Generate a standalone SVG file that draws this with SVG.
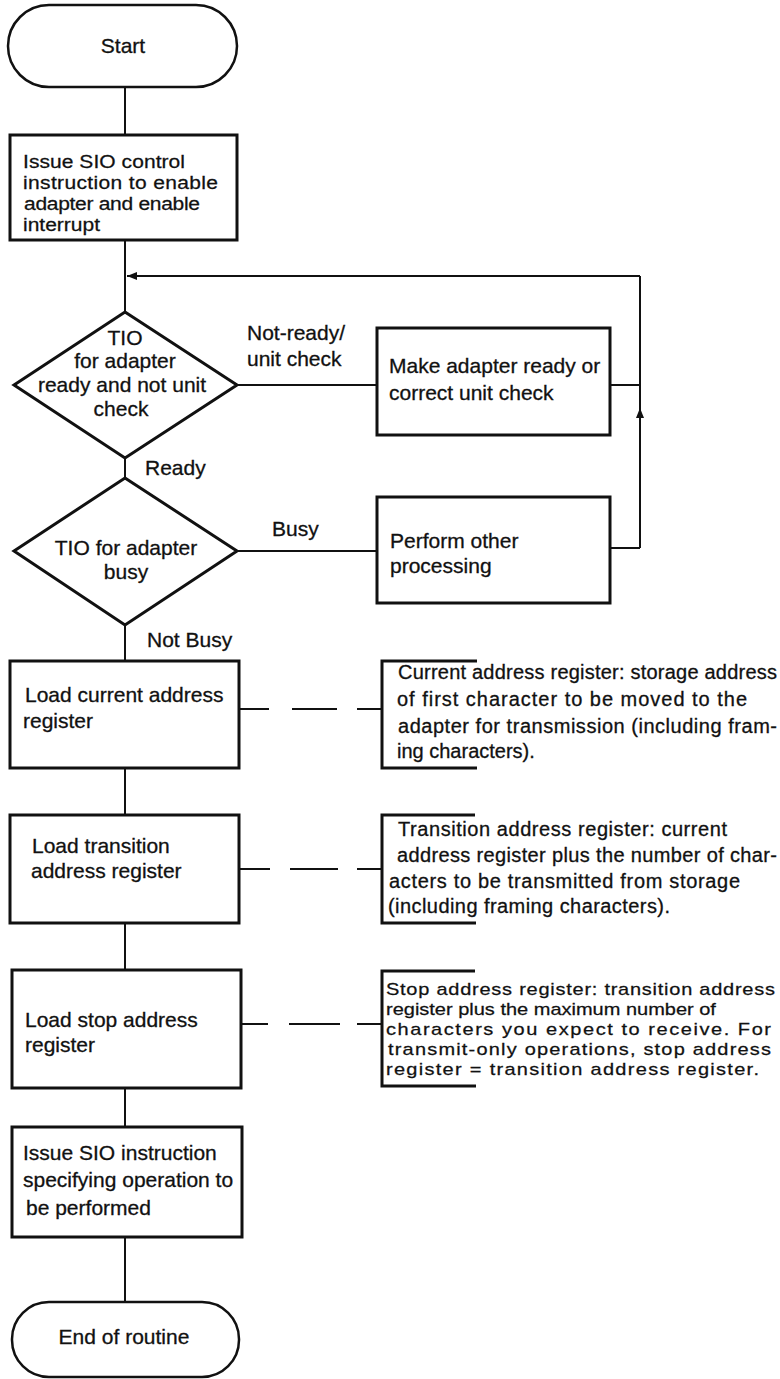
<svg xmlns="http://www.w3.org/2000/svg" width="780" height="1379" viewBox="0 0 780 1379">
  <style>
    text { font-family: "Liberation Sans", Arial, sans-serif; font-size: 21px; fill: #111; stroke: #111; stroke-width: 0.3; }
    .note { font-size: 20px; }
    .box { fill: #fff; stroke: #111; stroke-width: 3; }
    .term { fill: #fff; stroke: #111; stroke-width: 2.5; }
    .dec { fill: #fff; stroke: #111; stroke-width: 3; stroke-linejoin: miter; }
    .wire { fill: none; stroke: #111; stroke-width: 2; }
    .bracket { fill: none; stroke: #111; stroke-width: 3; }
    .mid { text-anchor: middle; }
  </style>
  <defs>
    <marker id="arrow" viewBox="0 0 10 8" refX="10" refY="4" markerWidth="10" markerHeight="8" markerUnits="userSpaceOnUse" orient="auto">
      <path d="M0,0 L10,4 L0,8 z" fill="#111"/>
    </marker>
  </defs>

  <!-- connectors -->
  <g id="connectors">
    <line class="wire" x1="125" y1="87" x2="125" y2="135"/>
    <line class="wire" x1="125" y1="240" x2="125" y2="312"/>
    <line class="wire" x1="640" y1="276" x2="127" y2="276" marker-end="url(#arrow)"/>
    <line class="wire" x1="237" y1="385" x2="377" y2="385"/>
    <line class="wire" x1="610" y1="385" x2="640" y2="385"/>
    <line class="wire" x1="640" y1="276" x2="640" y2="548"/>
    <line class="wire" x1="640" y1="470" x2="640" y2="408" marker-end="url(#arrow)"/>
    <line class="wire" x1="125" y1="458" x2="125" y2="478"/>
    <line class="wire" x1="237" y1="551" x2="377" y2="551"/>
    <line class="wire" x1="610" y1="548" x2="640" y2="548"/>
    <line class="wire" x1="125" y1="625" x2="125" y2="661"/>
    <line class="wire" x1="125" y1="768" x2="125" y2="815"/>
    <line class="wire" x1="125" y1="923" x2="125" y2="970"/>
    <line class="wire" x1="125" y1="1088" x2="125" y2="1127"/>
    <line class="wire" x1="125" y1="1237" x2="125" y2="1302"/>
    <!-- dashed annotation leaders -->
    <path class="wire" d="M239,709 H269 M292,709 H337 M357,709 H382"/>
    <path class="wire" d="M239,869 H270 M290,869 H338 M357,869 H382"/>
    <path class="wire" d="M241,1024 H268 M289,1024 H340 M357,1024 H382"/>
    <!-- branch labels -->
    <text x="247" y="340">Not-ready/</text>
    <text x="247" y="366">unit check</text>
    <text x="145" y="475">Ready</text>
    <text x="272" y="536">Busy</text>
    <text x="147" y="647">Not Busy</text>
  </g>

  <g id="start">
    <rect class="term" x="8" y="5" width="229" height="82" rx="41" ry="41"/>
    <text class="mid" x="123" y="53">Start</text>
  </g>

  <g id="enable">
    <rect class="box" x="10" y="135" width="227" height="105"/>
    <!-- tightly set lines: glyphs squeezed vertically -->
    <text transform="matrix(1 0 0 0.88 23 168)" textLength="162" lengthAdjust="spacing">Issue SIO control</text>
    <text transform="matrix(1 0 0 0.88 23 189)" textLength="195" lengthAdjust="spacing">instruction to enable</text>
    <text transform="matrix(1 0 0 0.88 24 210)" textLength="176" lengthAdjust="spacing">adapter and enable</text>
    <text transform="matrix(1 0 0 0.88 23 231)">interrupt</text>
  </g>

  <g id="tio-ready">
    <polygon class="dec" points="125,312 237,385 125,458 14,385"/>
    <text class="mid" x="125" y="345">TIO</text>
    <text class="mid" x="125" y="368">for adapter</text>
    <text class="mid" x="122" y="392">ready and not unit</text>
    <text class="mid" x="121" y="416">check</text>
  </g>

  <g id="make-ready">
    <rect class="box" x="377" y="328" width="233" height="107"/>
    <text x="389" y="373">Make adapter ready or</text>
    <text x="389" y="400">correct unit check</text>
  </g>

  <g id="tio-busy">
    <polygon class="dec" points="125,478 237,551 125,625 14,551"/>
    <text class="mid" x="126" y="555">TIO for adapter</text>
    <text class="mid" x="126" y="579">busy</text>
  </g>

  <g id="other">
    <rect class="box" x="377" y="497" width="233" height="106"/>
    <text x="390" y="548">Perform other</text>
    <text x="390" y="573">processing</text>
  </g>

  <g id="load-current">
    <rect class="box" x="10" y="661" width="229" height="107"/>
    <text x="25" y="702">Load current address</text>
    <text x="23" y="728">register</text>
  </g>

  <g id="note-current">
    <path class="bracket" d="M477,661 H382 V768 H477"/>
    <text class="note" x="398" y="679" textLength="379" lengthAdjust="spacing">Current address register:  storage address</text>
    <text class="note" x="397" y="706" textLength="350" lengthAdjust="spacing">of first character to be moved to the</text>
    <text class="note" x="398" y="733" textLength="379" lengthAdjust="spacing">adapter for transmission (including fram-</text>
    <text class="note" x="397" y="758">ing characters).</text>
  </g>

  <g id="load-transition">
    <rect class="box" x="10" y="815" width="229" height="108"/>
    <text x="32" y="853">Load transition</text>
    <text x="31" y="878">address  register</text>
  </g>

  <g id="note-transition">
    <path class="bracket" d="M475,815 H382 V923 H476"/>
    <text class="note" x="398" y="836" textLength="329" lengthAdjust="spacing">Transition address register:  current</text>
    <text class="note" x="397" y="862" textLength="380" lengthAdjust="spacing">address register plus the number of char-</text>
    <text class="note" x="389" y="888" textLength="351" lengthAdjust="spacing">acters to be transmitted from storage</text>
    <text class="note" x="388" y="913" textLength="282" lengthAdjust="spacing">(including framing characters).</text>
  </g>

  <g id="load-stop">
    <rect class="box" x="12" y="970" width="229" height="118"/>
    <text x="25" y="1027">Load stop address</text>
    <text x="25" y="1052">register</text>
  </g>

  <g id="note-stop">
    <path class="bracket" d="M475,971 H382 V1086 H476"/>
    <!-- closely spaced lines: glyphs squeezed vertically -->
    <text class="note" transform="matrix(1 0 0 0.85 386 995)" textLength="389" lengthAdjust="spacing">Stop address register:  transition address</text>
    <text class="note" transform="matrix(1 0 0 0.85 386 1015)">register plus the maximum number of</text>
    <text class="note" transform="matrix(1 0 0 0.85 386 1035)" textLength="385" lengthAdjust="spacing">characters you expect to receive.  For</text>
    <text class="note" transform="matrix(1 0 0 0.85 388 1055)" textLength="383" lengthAdjust="spacing">transmit-only operations, stop address</text>
    <text class="note" transform="matrix(1 0 0 0.85 386 1075)" textLength="373" lengthAdjust="spacing">register = transition address register.</text>
  </g>

  <g id="issue-sio">
    <rect class="box" x="12" y="1127" width="230" height="110"/>
    <text x="23" y="1160">Issue SIO instruction</text>
    <text x="23" y="1187">specifying operation to</text>
    <text x="26" y="1215">be  performed</text>
  </g>

  <g id="end">
    <rect class="term" x="12" y="1302" width="227" height="75" rx="37" ry="37"/>
    <text class="mid" x="124" y="1344">End of routine</text>
  </g>
</svg>
